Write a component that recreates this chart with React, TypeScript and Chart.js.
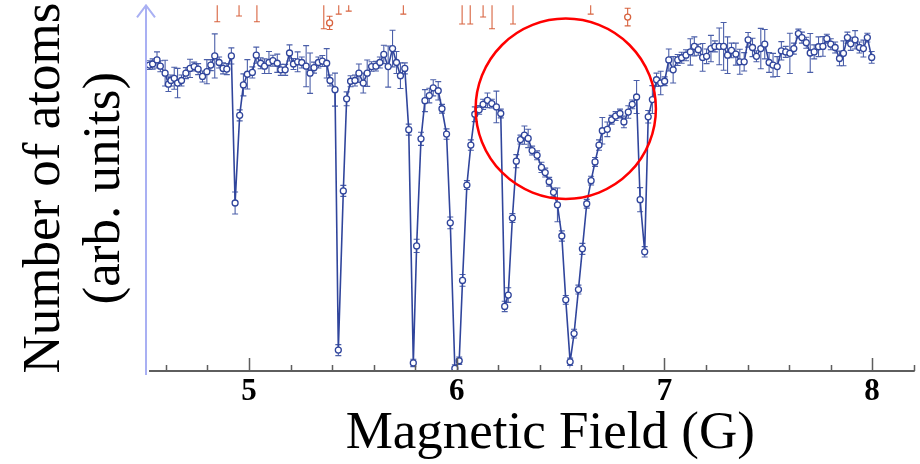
import React, { useEffect, useRef } from 'react';
import { Chart, registerables } from 'chart.js';

Chart.register(...registerables);

// Magnetic field (G) of each measurement
const FIELD_G = [
  4.520, 4.536, 4.557, 4.573, 4.596, 4.612, 4.624, 4.640, 4.656, 4.675,
  4.696, 4.716, 4.736, 4.755, 4.776, 4.797, 4.816, 4.835, 4.856, 4.875,
  4.893, 4.915, 4.933, 4.955, 4.973, 4.992, 5.016, 5.035, 5.056, 5.075,
  5.096, 5.115, 5.136, 5.153, 5.174, 5.195, 5.214, 5.234, 5.254, 5.275,
  5.294, 5.313, 5.334, 5.353, 5.374, 5.390, 5.414, 5.430, 5.454, 5.470,
  5.489, 5.510, 5.529, 5.550, 5.569, 5.590, 5.611, 5.630, 5.649, 5.670,
  5.691, 5.710, 5.729, 5.750, 5.769, 5.791, 5.807, 5.828, 5.847, 5.868,
  5.887, 5.911, 5.929, 5.951, 5.969, 5.991, 6.012, 6.028, 6.049, 6.068,
  6.087, 6.108, 6.127, 6.148, 6.169, 6.191, 6.212, 6.231, 6.248, 6.268,
  6.287, 6.307, 6.326, 6.344, 6.363, 6.387, 6.408, 6.426, 6.445, 6.466,
  6.485, 6.506, 6.525, 6.546, 6.565, 6.586, 6.605, 6.626, 6.647, 6.666,
  6.685, 6.701, 6.725, 6.746, 6.765, 6.786, 6.805, 6.826, 6.845, 6.866,
  6.883, 6.905, 6.922, 6.942, 6.962, 6.982, 7.001, 7.021, 7.042, 7.064,
  7.083, 7.104, 7.125, 7.144, 7.163, 7.184, 7.203, 7.224, 7.243, 7.264,
  7.285, 7.304, 7.323, 7.344, 7.363, 7.384, 7.403, 7.424, 7.443, 7.464,
  7.483, 7.504, 7.523, 7.543, 7.563, 7.584, 7.604, 7.623, 7.645, 7.662,
  7.683, 7.702, 7.721, 7.742, 7.763, 7.782, 7.801, 7.822, 7.843, 7.862,
  7.881, 7.897, 7.918, 7.939, 7.958, 7.977, 7.998,
];

// Number of atoms (arb. units)
const ATOMS = [
  83.4, 83.7, 84.8, 83.1, 81.2, 78.2, 79.2, 79.8, 78.5, 79.2,
  81.2, 82.5, 83.0, 82.3, 80.3, 81.6, 83.4, 85.9, 84.1, 82.5,
  82.3, 85.9, 45.8, 69.7, 78.0, 80.9, 81.4, 86.1, 83.9, 83.1,
  84.1, 84.6, 83.9, 82.1, 82.1, 86.7, 83.7, 84.3, 84.1, 83.1,
  81.2, 82.7, 84.1, 84.5, 83.9, 79.2, 76.7, 5.7, 49.1, 74.2,
  79.0, 79.2, 81.2, 78.5, 81.2, 83.0, 83.1, 84.1, 86.3, 83.0,
  87.9, 84.1, 80.5, 82.5, 65.8, 2.2, 34.1, 63.3, 73.7, 75.1,
  77.2, 76.4, 71.5, 64.6, 40.4, 0.7, 2.8, 24.7, 50.7, 61.6,
  70.0, 71.2, 72.7, 73.8, 72.9, 72.0, 70.2, 17.6, 20.7, 41.7,
  57.2, 63.1, 64.3, 63.4, 60.1, 58.8, 55.5, 54.1, 51.6, 48.7,
  45.3, 36.8, 19.4, 2.5, 10.2, 22.2, 33.3, 45.6, 51.9, 57.0,
  61.6, 65.5, 65.9, 68.5, 69.5, 70.2, 67.9, 70.6, 72.7, 74.7,
  46.7, 32.5, 69.3, 74.0, 79.4, 78.5, 79.0, 84.8, 82.1, 84.8,
  85.4, 86.1, 87.0, 88.5, 87.6, 85.5, 85.8, 87.9, 88.5, 88.5,
  88.5, 86.1, 87.4, 86.4, 84.3, 84.3, 90.3, 88.2, 85.8, 87.9,
  89.1, 84.1, 83.4, 83.0, 87.3, 87.0, 86.6, 87.9, 92.0, 90.9,
  89.5, 86.7, 87.0, 88.4, 88.5, 90.6, 89.1, 88.2, 85.2, 86.6,
  90.9, 89.2, 90.3, 88.2, 87.9, 90.9, 85.5,
];

// Error bar half-lengths
const ATOMS_ERR = [
  1.2, 1.4, 2.2, 1.5, 3.5, 2, 1.5, 3, 4, 1.5,
  1.5, 2.5, 1.2, 1.5, 1.5, 3.3, 1.5, 6, 1.5, 1.5,
  1.5, 2.2, 3, 1.5, 3, 4, 1.5, 2.2, 1.5, 2,
  3, 1.5, 2.5, 1.5, 1.5, 2.2, 1.5, 2.7, 1.5, 5.6,
  5.5, 1.5, 1.5, 1.5, 4, 1.5, 4.5, 1.5, 1.5, 1.9,
  1.5, 1.5, 2.5, 2.7, 3.6, 1.3, 1.3, 1.5, 2.5, 5.6,
  5, 3, 3.5, 1.5, 1.5, 1, 1.8, 1.8, 3, 2,
  2.2, 2.5, 1.2, 1.4, 1.6, 1, 1, 1.6, 1.2, 1.4,
  2, 1.2, 1.4, 2, 1.2, 4.3, 1.2, 1.4, 2, 1.2,
  1.8, 1.2, 2.5, 2.5, 1.2, 1.2, 1.4, 1.2, 1.2, 1.2,
  4.6, 1.4, 1.2, 1, 1.2, 1.2, 1.5, 1.2, 1.2, 1.2,
  1.4, 3.6, 2, 1.2, 1.2, 1.2, 1.6, 1.7, 1.2, 4.5,
  3.3, 1.4, 1.7, 3.8, 1.8, 3.2, 1.2, 3, 3.6, 1.5,
  1.5, 1.5, 3.6, 2.6, 1.5, 3.8, 2, 3.6, 1.5, 5,
  6.5, 5, 2, 3, 3.4, 2.5, 2, 2.5, 1.5, 5.5,
  4, 2.7, 3.2, 2.7, 2.5, 1.5, 5.5, 1.5, 1.2, 1.5,
  1.5, 5.3, 1.9, 2.7, 2.7, 1.2, 1.5, 1.5, 2, 3.4,
  1.5, 1.8, 2.5, 1.5, 2.3, 1.2, 1.6,
];

// Second (red) series, mostly above the visible range
const RED_FIELD = [4.847, 4.952, 5.038, 5.360, 5.388, 5.432, 5.480, 5.743, 6.026, 6.065, 6.127, 6.170, 6.271, 6.645, 6.823];
const RED_ATOMS = [103, 103, 103, 102, 94.9, 103, 103, 103, 103, 103, 101, 101, 103, 102, 96.5];
const RED_ERR = [7.8, 6.2, 7.8, 8.7, 1.8, 5.7, 4.9, 5.7, 8.4, 8.4, 4.5, 7.7, 8.4, 4.7, 2.4];

// Axis ticks
const X_TICKS = [4.6, 4.8, 5, 5.2, 5.4, 5.6, 5.8, 6, 6.2, 6.4, 6.6, 6.8, 7, 7.2, 7.4, 7.6, 7.8, 8, 8.2];
const X_LABELED = [5, 6, 7, 8];
const X_MIN = 4.504;
const X_MAX = 8.205;
const Y_MIN = 0;
const Y_MAX = 99.7;

// Highlight circle (data units, radius in field units)
const CIRCLE_X = 6.525;
const CIRCLE_Y = 71.5;
const CIRCLE_R = 0.434;

const SERIF = "'Liberation Serif', 'Times New Roman', serif";
const BLUE = '#30459c';
const BLUE_ERR = '#4b5fa9';
const RED = '#d8633f';

const errorBarPlugin = {
  id: 'errorBars',
  beforeDatasetsDraw(chart: any) {
    const { ctx, chartArea, scales } = chart;
    const xs = scales.x;
    const ys = scales.y;
    ctx.save();
    ctx.beginPath();
    ctx.rect(chartArea.left, chartArea.top, chartArea.right - chartArea.left, chartArea.bottom - chartArea.top);
    ctx.clip();
    chart.data.datasets.forEach((ds: any) => {
      const errs: number[] = ds.errors;
      if (!errs) return;
      ctx.strokeStyle = ds.errorColor;
      ctx.lineWidth = 1.1;
      ds.data.forEach((p: any, i: number) => {
        const px = xs.getPixelForValue(p.x);
        const top = ys.getPixelForValue(p.y + errs[i]);
        const bot = ys.getPixelForValue(p.y - errs[i]);
        ctx.beginPath();
        ctx.moveTo(px, top);
        ctx.lineTo(px, bot);
        ctx.moveTo(px - 3, top);
        ctx.lineTo(px + 3, top);
        ctx.moveTo(px - 3, bot);
        ctx.lineTo(px + 3, bot);
        ctx.stroke();
      });
    });
    ctx.restore();
  },
};

const axesPlugin = {
  id: 'customAxes',
  afterDatasetsDraw(chart: any) {
    const { ctx, chartArea, scales } = chart;
    const xs = scales.x;
    const ys = scales.y;
    ctx.save();
    // y axis with arrow
    ctx.strokeStyle = '#a9b0f3';
    ctx.lineWidth = 2;
    ctx.beginPath();
    ctx.moveTo(chartArea.left, chartArea.bottom + 4);
    ctx.lineTo(chartArea.left, chartArea.top);
    ctx.moveTo(chartArea.left - 9, chartArea.top + 12);
    ctx.lineTo(chartArea.left, chartArea.top);
    ctx.lineTo(chartArea.left + 9, chartArea.top + 12);
    ctx.stroke();
    // x axis line
    ctx.strokeStyle = '#5e5e5e';
    ctx.lineWidth = 2;
    const yb = chartArea.bottom;
    ctx.beginPath();
    ctx.moveTo(chartArea.left + 3, yb);
    ctx.lineTo(chartArea.right, yb);
    ctx.stroke();
    ctx.lineWidth = 1.5;
    ctx.beginPath();
    xs.ticks.forEach((t: any) => {
      const px = Math.round(xs.getPixelForValue(t.value)) + 0.5;
      const major = X_LABELED.includes(t.value);
      ctx.moveTo(px, yb);
      ctx.lineTo(px, yb - (major ? 13 : 6));
    });
    ctx.stroke();
    // highlight circle
    const cx = xs.getPixelForValue(CIRCLE_X);
    const cy = ys.getPixelForValue(CIRCLE_Y);
    const r = xs.getPixelForValue(CIRCLE_X + CIRCLE_R) - cx;
    ctx.strokeStyle = '#ff0000';
    ctx.lineWidth = 2.5;
    ctx.beginPath();
    ctx.arc(cx, cy, r, 0, Math.PI * 2);
    ctx.stroke();
    ctx.restore();
  },
};

export default function App() {
  const canvasRef = useRef<HTMLCanvasElement | null>(null);

  useEffect(() => {
    document.body.style.margin = '0';
    const canvas = canvasRef.current;
    if (!canvas) return;
    const blueData = FIELD_G.map((x, i) => ({ x, y: ATOMS[i] }));
    const redData = RED_FIELD.map((x, i) => ({ x, y: RED_ATOMS[i] }));
    const chart = new Chart(canvas, {
      type: 'scatter',
      data: {
        datasets: [
          {
            data: redData,
            showLine: false,
            borderColor: RED,
            backgroundColor: '#ffffff',
            pointRadius: 3,
            pointBorderWidth: 1.3,
            errors: RED_ERR,
            errorColor: RED,
          } as any,
          {
            data: blueData,
            showLine: true,
            borderColor: BLUE,
            borderWidth: 1.6,
            backgroundColor: '#ffffff',
            pointBackgroundColor: '#ffffff',
            pointBorderColor: BLUE,
            pointRadius: 3,
            pointBorderWidth: 1.3,
            tension: 0,
            errors: ATOMS_ERR,
            errorColor: BLUE_ERR,
          } as any,
        ],
      },
      options: {
        animation: false,
        responsive: false,
        layout: { padding: { top: 0, right: 2, left: 0, bottom: 0 } },
        plugins: {
          legend: { display: false },
          tooltip: { enabled: false },
        },
        scales: {
          x: {
            type: 'linear',
            min: X_MIN,
            max: X_MAX,
            afterBuildTicks: (s: any) => {
              s.ticks = X_TICKS.map((v) => ({ value: v }));
            },
            afterFit: (s: any) => {
              s.height = 93;
            },
            grid: { display: false, drawTicks: false },
            border: { display: false },
            ticks: {
              autoSkip: false,
              maxRotation: 0,
              padding: 2,
              color: '#000',
              font: { family: SERIF, size: 31, weight: 'bold' },
              callback: (v: any) => (X_LABELED.includes(v) ? String(v) : ''),
            },
            title: {
              display: true,
              text: '   Magnetic Field (G)',
              color: '#000',
              font: { family: SERIF, size: 53, lineHeight: 1.13 },
              padding: { top: 0, bottom: 0 },
            },
          },
          y: {
            min: Y_MIN,
            max: Y_MAX,
            afterFit: (s: any) => {
              s.width = 146;
            },
            ticks: { display: false },
            grid: { display: false, drawTicks: false },
            border: { display: false },
            title: {
              display: true,
              text: ['Number of atoms', '(arb. units)'],
              color: '#000',
              font: { family: SERIF, size: 53, lineHeight: 1.13 },
              padding: { top: 15, bottom: 0 },
            },
          },
        },
      } as any,
      plugins: [errorBarPlugin, axesPlugin],
    });
    return () => chart.destroy();
  }, []);

  return (
    <div style={{ position: 'absolute', left: 0, top: 0, width: 920, height: 464, background: '#fff' }}>
      <canvas ref={canvasRef} width={920} height={464} style={{ display: 'block' }} />
    </div>
  );
}
